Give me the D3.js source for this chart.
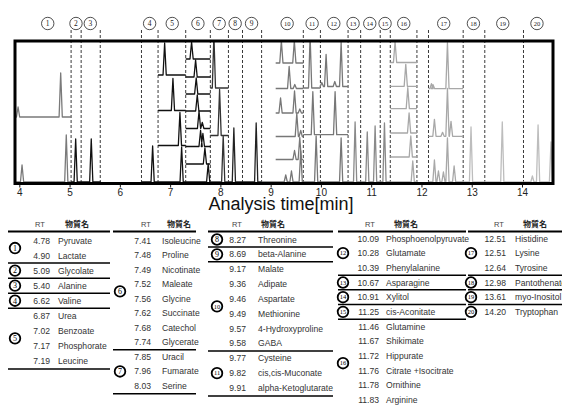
<!DOCTYPE html>
<html>
<head>
<meta charset="utf-8">
<script src="https://cdn.jsdelivr.net/npm/d3@7"></script>
<style>
  body { margin: 0; background: #fff; }
  svg { display: block; font-family: 'Liberation Sans', Arial, sans-serif; }
</style>
</head>
<body>
<svg id="chart" width="562" height="408"></svg>
<script>
// dashed window borders (min)
const windowBounds = [5.03, 5.23, 5.61, 6.43, 6.76, 7.31, 7.80, 8.16, 8.44, 8.82, 9.65, 9.99, 10.54, 10.79, 11.18, 11.38, 11.91, 12.14, 12.83, 13.26, 14.03];
// circled window numbers and their position on the time axis
const groupNo = d3.range(1, 21);
const groupLabelRT = [4.565, 5.127, 5.412, 6.592, 7.042, 7.553, 7.976, 8.294, 8.62, 9.328, 9.825, 10.256, 10.64, 10.972, 11.276, 11.648, 12.443, 13.034, 13.618, 14.298];
const xTicks = [4, 5, 6, 7, 8, 9, 10, 11, 12, 13, 14];

// traces: [from, to, baseline, [[rt, height], ...]]
const traces = [
  [3.93, 5.03, 66, [[3.975, 10], [4.823, 44]]],
  [3.93, 5.03, 1, [[4.054, 17], [4.934, 47]]],
  [5.03, 5.62, 1, [[5.121, 43], [5.431, 43]]],
  [6.43, 6.76, 1, [[6.652, 36]]],
  [6.76, 7.31, 108, [[6.891, 32]]],
  [6.76, 7.31, 72.5, [[7.056, 32]]],
  [6.76, 7.31, 37.5, [[7.195, 33]]],
  [6.76, 7.31, 1, [[7.229, 35]]],
  [7.31, 7.80, 124, [[7.427, 17]]],
  [7.31, 7.80, 106, [[7.507, 17]]],
  [7.31, 7.80, 89, [[7.519, 16]]],
  [7.31, 7.80, 72, [[7.54, 16]]],
  [7.31, 7.80, 54.5, [[7.575, 17], [7.64, 6]]],
  [7.31, 7.80, 36.5, [[7.606, 16], [7.652, 13]]],
  [7.31, 7.80, 19, [[7.692, 16]]],
  [7.31, 7.80, 1, [[7.757, 18]]],
  [7.80, 8.16, 95, [[7.871, 53]]],
  [7.80, 8.16, 47.5, [[7.984, 46]]],
  [7.80, 8.16, 1, [[8.056, 46]]],
  [8.16, 8.44, 1, [[8.268, 54]]],
  [8.44, 8.82, 1, [[8.712, 59]]],
  [9.10, 9.65, 120, [[9.213, 22], [9.471, 22]]],
  [9.10, 9.65, 94.5, [[9.368, 22], [9.48, 4]]],
  [9.10, 9.65, 70, [[9.197, 15], [9.475, 22], [9.58, 4]]],
  [9.10, 9.65, 46.5, [[9.52, 23], [9.598, 6]]],
  [9.10, 9.65, 23.5, [[9.475, 9], [9.579, 22]]],
  [8.82, 9.65, 1, [[9.30, 7], [9.414, 11], [9.598, 31]]],
  [9.65, 9.99, 95, [[9.785, 52]]],
  [9.65, 9.99, 48.3, [[9.839, 43]]],
  [9.65, 9.99, 1, [[9.905, 46]]],
  [9.99, 10.54, 96.5, [[10.018, 4], [10.103, 32], [10.276, 5], [10.402, 44]]],
  [9.99, 10.54, 48.3, [[10.282, 43]]],
  [9.99, 10.54, 1, [[10.402, 44]]],
  [10.54, 10.79, 1, [[10.68, 60]]],
  [10.79, 11.18, 1, [[10.922, 50], [11.078, 56]]],
  [11.18, 11.38, 1, [[11.264, 59]]],
  [11.38, 11.91, 120.5, [[11.475, 21]]],
  [11.38, 11.91, 96.7, [[11.688, 22]]],
  [11.38, 11.91, 74.3, [[11.728, 21]]],
  [11.38, 11.91, 50, [[11.754, 20]]],
  [11.38, 11.91, 26, [[11.788, 21]]],
  [11.38, 11.91, 1, [[11.827, 21]]],
  [12.14, 12.83, 94.3, [[12.199, 5], [12.23, 4], [12.517, 46]]],
  [12.14, 12.83, 46.7, [[12.258, 17], [12.42, 4], [12.517, 48], [12.588, 15]]],
  [12.14, 12.83, 1, [[12.258, 22], [12.338, 11], [12.437, 10], [12.517, 44], [12.65, 16]]],
  [12.83, 13.26, 1, [[12.986, 55]]],
  [13.26, 14.03, 1, [[13.608, 60]]],
  [14.03, 14.62, 1, [[14.207, 6], [14.32, 57], [14.577, 40]]]
];

// compound table
const compoundRT = [4.78, 4.90, 5.09, 5.40, 6.62, 6.87, 7.02, 7.17, 7.19,
  7.41, 7.48, 7.49, 7.52, 7.56, 7.62, 7.68, 7.74, 7.85, 7.96, 8.03,
  8.27, 8.69, 9.17, 9.36, 9.46, 9.49, 9.57, 9.58, 9.77, 9.82, 9.91,
  10.09, 10.28, 10.39, 10.67, 10.91, 11.25, 11.46, 11.67, 11.72, 11.76, 11.78, 11.83,
  12.51, 12.51, 12.64, 12.98, 13.61, 14.20];
const compoundName = ['Pyruvate', 'Lactate', 'Glycolate', 'Alanine', 'Valine', 'Urea', 'Benzoate', 'Phosphorate', 'Leucine',
  'Isoleucine', 'Proline', 'Nicotinate', 'Maleate', 'Glycine', 'Succinate', 'Catechol', 'Glycerate', 'Uracil', 'Fumarate', 'Serine',
  'Threonine', 'beta-Alanine', 'Malate', 'Adipate', 'Aspartate', 'Methionine', '4-Hydroxyproline', 'GABA', 'Cysteine', 'cis,cis-Muconate', 'alpha-Ketoglutarate',
  'Phosphoenolpyruvate', 'Glutamate', 'Phenylalanine', 'Asparagine', 'Xylitol', 'cis-Aconitate', 'Glutamine', 'Shikimate', 'Hippurate', 'Citrate +Isocitrate', 'Ornithine', 'Arginine',
  'Histidine', 'Lysine', 'Tyrosine', 'Pantothenate', 'myo-Inositol', 'Tryptophan'];
const compoundGroup = [1, 1, 2, 3, 4, 5, 5, 5, 5,
  6, 6, 6, 6, 6, 6, 6, 6, 7, 7, 7,
  8, 9, 10, 10, 10, 10, 10, 10, 11, 11, 11,
  12, 12, 12, 13, 14, 15, 16, 16, 16, 16, 16, 16,
  17, 17, 17, 18, 19, 20];
const tableOfGroup = [0, 0, 0, 0, 0, 1, 1, 2, 2, 2, 2, 3, 3, 3, 3, 3, 4, 4, 4, 4];
const headRT = 'RT';
const headName = '物質名';
const axisTitle = 'Analysis time[min]';

const svg = d3.select('#chart');
const plot = { left: 15, right: 553, top: 41, bottom: 183.5 };

const x = d3.scaleLinear().domain([3.914, 14.617]).range([plot.left, plot.right]);
const y = d3.scaleLinear().domain([0, 141]).range([183, 42]);

// grey level by time window
const shade = d3.scaleThreshold()
  .domain([5.03, 7.80, 8.16, 8.82, 10.54, 11.38, 12.83])
  .range(['#7a7a7a', '#111', '#333', '#222', '#777', '#8a8a8a', '#a8a8a8', '#bdbdbd']);

svg.append('defs').append('clipPath').attr('id', 'clip')
  .append('rect')
  .attr('x', plot.left).attr('y', plot.top)
  .attr('width', plot.right - plot.left).attr('height', plot.bottom - plot.top);

// dashed window lines
svg.append('g')
  .selectAll('line')
  .data(windowBounds)
  .enter()
  .append('line')
  .attr('x1', d => x(d)).attr('x2', d => x(d))
  .attr('y1', 30).attr('y2', plot.bottom)
  .attr('stroke', '#222')
  .attr('stroke-width', 0.9)
  .attr('stroke-dasharray', '3,2');

// circled window numbers
const lab = svg.append('g')
  .selectAll('g')
  .data(groupNo)
  .enter()
  .append('g')
  .attr('transform', (d, i) => `translate(${x(groupLabelRT[i])}, 23.5)`);
lab.append('circle').attr('r', 6.2).attr('fill', '#fff').attr('stroke', '#222').attr('stroke-width', 0.8);
lab.append('text')
  .attr('text-anchor', 'middle')
  .attr('dy', '0.35em')
  .style('font-family', "'Liberation Serif', serif")
  .style('font-size', d => d > 9 ? '6.5px' : '7.5px')
  .attr('fill', '#222')
  .text(d => d);

// chromatogram traces
const halfWidth = 0.032;
const line = d3.line().x(d => x(d[0])).y(d => y(d[1]));
function tracePoints(tr) {
  const [from, to, base, peaks] = tr;
  const pts = [[from, base]];
  peaks.slice().sort((a, b) => a[0] - b[0]).forEach(p => {
    pts.push([p[0] - halfWidth, base], [p[0], base + p[1]], [p[0] + halfWidth, base]);
  });
  pts.push([to, base]);
  return pts;
}

svg.append('g')
  .attr('clip-path', 'url(#clip)')
  .selectAll('path')
  .data(traces)
  .enter()
  .append('path')
  .attr('d', d => line(tracePoints(d)))
  .attr('fill', 'none')
  .attr('stroke', d => shade(d[0]))
  .attr('stroke-width', 1.3)
  .attr('stroke-linejoin', 'round');

// frame
svg.append('rect')
  .attr('x', plot.left).attr('y', plot.top)
  .attr('width', plot.right - plot.left).attr('height', plot.bottom - plot.top)
  .attr('fill', 'none')
  .attr('stroke', '#000')
  .attr('stroke-width', 3);

// x axis
const xAxis = svg.append('g')
  .attr('transform', `translate(0, ${plot.bottom + 1})`)
  .call(d3.axisBottom(x).tickValues(xTicks).tickSize(3).tickPadding(1).tickFormat(d3.format('d')));
xAxis.select('.domain').remove();
xAxis.selectAll('line').attr('stroke', '#111');
xAxis.selectAll('text')
  .style('font-family', "'Liberation Sans', Arial, sans-serif")
  .style('font-size', '10px')
  .attr('fill', '#222');

svg.append('text')
  .attr('x', 281).attr('y', 210)
  .attr('text-anchor', 'middle')
  .style('font-size', '18px')
  .attr('fill', '#111')
  .text(axisTitle);

// tables
const cols = [
  { circle: 15, rtRight: 50, name: 58, rtHead: 40, nameHead: 77, x0: 8, x1: 110, rowH: 15.05, y0: 240.5, bottomLine: true },
  { circle: 120, rtRight: 151, name: 162, rtHead: 146, nameHead: 179, x0: 113, x1: 196, rowH: 14.55, y0: 240.5, bottomLine: true },
  { circle: 217, rtRight: 246, name: 258, rtHead: 237, nameHead: 273, x0: 208, x1: 333, rowH: 14.85, y0: 239.5, bottomLine: true },
  { circle: 343, rtRight: 379, name: 386, rtHead: 370, nameHead: 406, x0: 338, x1: 466, rowH: 14.67, y0: 238.5, bottomLine: false },
  { circle: 471, rtRight: 506, name: 515, rtHead: 499, nameHead: 535, x0: 468, x1: 562, rowH: 14.67, y0: 238.5, bottomLine: false }
];
const fmt = d3.format('.2f');

cols.forEach((c, ci) => {
  const g = svg.append('g');
  const rows = compoundRT
    .map((rt, i) => ({ rt, name: compoundName[i], group: compoundGroup[i] }))
    .filter(r => tableOfGroup[r.group - 1] === ci);
  rows.forEach((r, k) => { r.y = c.y0 + k * c.rowH; });

  g.append('text').attr('x', c.rtHead).attr('y', 224).attr('text-anchor', 'middle')
    .attr('dy', '0.35em').style('font-size', '7.5px').attr('fill', '#444').text(headRT);
  g.append('text').attr('x', c.nameHead).attr('y', 224).attr('text-anchor', 'middle')
    .attr('dy', '0.35em').style('font-family', "'Noto Sans CJK JP', sans-serif")
    .style('font-size', '8px').style('font-weight', 'bold').attr('fill', '#222').text(headName);
  g.append('line').attr('x1', c.x0).attr('x2', c.x1).attr('y1', 231.5).attr('y2', 231.5)
    .attr('stroke', '#000').attr('stroke-width', 1.8);

  g.selectAll('.rt').data(rows).enter().append('text')
    .attr('x', c.rtRight).attr('y', d => d.y).attr('dy', '0.35em')
    .attr('text-anchor', 'end').style('font-size', '8.6px').attr('fill', '#333')
    .text(d => fmt(d.rt));
  g.selectAll('.nm').data(rows).enter().append('text')
    .attr('x', c.name).attr('y', d => d.y).attr('dy', '0.35em')
    .style('font-size', '8.6px').attr('fill', '#333')
    .text(d => d.name);

  // separators between groups
  const seps = [];
  rows.forEach((r, k) => {
    const next = rows[k + 1];
    if (next && next.group !== r.group) seps.push((r.y + next.y) / 2);
  });
  if (c.bottomLine) seps.push(rows[rows.length - 1].y + c.rowH / 2 + 0.5);
  g.selectAll('.sep').data(seps).enter().append('line')
    .attr('x1', c.x0).attr('x2', c.x1).attr('y1', d => d).attr('y2', d => d)
    .attr('stroke', '#000').attr('stroke-width', 1.5);

  // group circles
  const groups = d3.groups(rows, r => r.group);
  const gc = g.selectAll('.gc').data(groups).enter().append('g')
    .attr('transform', d => `translate(${c.circle}, ${d3.mean(d[1], r => r.y)})`);
  gc.append('circle').attr('r', 5.3).attr('fill', '#fff').attr('stroke', '#000').attr('stroke-width', 1.8);
  gc.append('text').attr('text-anchor', 'middle').attr('dy', '0.35em')
    .style('font-family', "'Liberation Serif', serif")
    .style('font-size', d => d[0] > 9 ? '6.5px' : '8px')
    .attr('fill', '#000')
    .text(d => d[0]);
});
</script>
</body>
</html>
